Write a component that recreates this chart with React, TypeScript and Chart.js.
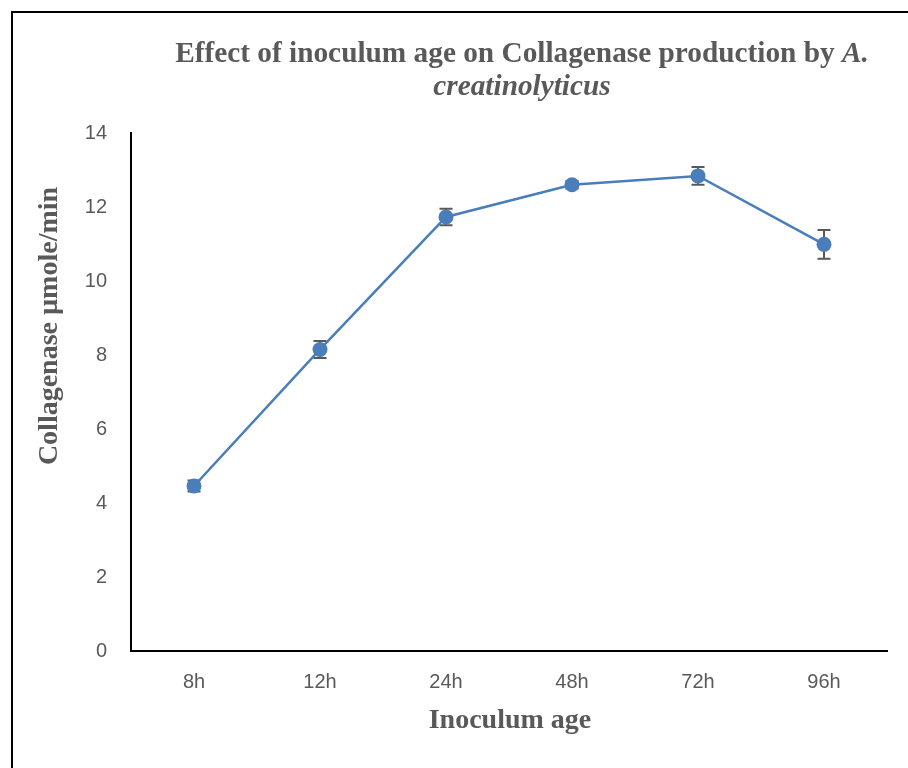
import React, { useEffect, useRef } from "react";
import { Chart, registerables } from "chart.js";

Chart.register(...registerables);

const categories = ["8h", "12h", "24h", "48h", "72h", "96h"];
const values = [4.46, 8.15, 11.73, 12.6, 12.84, 10.99];
const errors = [0.15, 0.23, 0.22, 0.1, 0.24, 0.39];
const yTicks = [0, 2, 4, 6, 8, 10, 12, 14];
const titleLine1 = "Effect of inoculum age on Collagenase production by ";
const titleLine1Italic = "A.";
const titleLine2 = "creatinolyticus";
const xTitle = "Inoculum age";
const yTitle = "Collagenase µmole/min";

const TEXT = "#595959";
const SERIES = "#4a7ebb";

const errorBarPlugin = {
  id: "errorBars",
  beforeDatasetsDraw(chart: any) {
    const ctx = chart.ctx;
    const xs = chart.scales.x;
    const ys = chart.scales.y;
    ctx.save();
    ctx.strokeStyle = "#595959";
    ctx.lineWidth = 2;
    values.forEach((v, i) => {
      const x = xs.getPixelForValue(i);
      const yt = ys.getPixelForValue(v + errors[i]);
      const yb = ys.getPixelForValue(v - errors[i]);
      ctx.beginPath();
      ctx.moveTo(x, yt);
      ctx.lineTo(x, yb);
      ctx.moveTo(x - 6.5, yt);
      ctx.lineTo(x + 6.5, yt);
      ctx.moveTo(x - 6.5, yb);
      ctx.lineTo(x + 6.5, yb);
      ctx.stroke();
    });
    ctx.restore();
  },
};

const textPlugin = {
  id: "texts",
  afterDraw(chart: any) {
    const ctx = chart.ctx;
    ctx.save();
    ctx.fillStyle = TEXT;
    ctx.textBaseline = "alphabetic";
    const fBold = "bold 29.3px 'Liberation Serif'";
    const fBoldIt = "italic bold 29.3px 'Liberation Serif'";
    ctx.font = fBold;
    const w1 = ctx.measureText(titleLine1).width;
    ctx.font = fBoldIt;
    const w2 = ctx.measureText(titleLine1Italic).width;
    const cx = 522;
    const x0 = cx - (w1 + w2) / 2;
    ctx.textAlign = "left";
    ctx.font = fBold;
    ctx.fillText(titleLine1, x0, 62);
    ctx.font = fBoldIt;
    ctx.fillText(titleLine1Italic, x0 + w1, 62);
    ctx.textAlign = "center";
    ctx.fillText(titleLine2, cx, 95);
    // x axis title
    ctx.textBaseline = "middle";
    ctx.font = "bold 28px 'Liberation Serif'";
    ctx.fillText(xTitle, 510, 721);
    // y axis title
    ctx.translate(50, 326);
    ctx.rotate(-Math.PI / 2);
    ctx.fillText(yTitle, 0, 0);
    ctx.restore();
  },
};

export default function App() {
  const ref = useRef<HTMLCanvasElement>(null);
  useEffect(() => {
    if (!ref.current) return;
    const chart = new Chart(ref.current, {
      type: "line",
      data: {
        labels: categories,
        datasets: [
          {
            data: values,
            borderColor: SERIES,
            backgroundColor: SERIES,
            borderWidth: 2.5,
            pointRadius: 7.5,
            pointHoverRadius: 7.5,
            pointBackgroundColor: SERIES,
            pointBorderColor: SERIES,
            pointBorderWidth: 0,
            tension: 0,
          },
        ],
      },
      options: {
        animation: false,
        responsive: false,
        events: [],
        layout: { padding: { left: 0, top: 133, right: 21, bottom: 0 } },
        plugins: { legend: { display: false }, tooltip: { enabled: false }, title: { display: false } },
        scales: {
          x: {
            offset: true,
            grid: { display: false, drawTicks: false },
            border: { display: true, color: "#000000", width: 2 },
            ticks: { color: TEXT, font: { family: "'Liberation Sans'", size: 20 }, padding: 19 },
            afterFit(scale: any) {
              scale.height = 117;
            },
          },
          y: {
            min: 0,
            max: 14,
            afterBuildTicks(scale: any) {
              scale.ticks = yTicks.map((v) => ({ value: v }));
            },
            grid: { display: false, drawTicks: false },
            border: { display: true, color: "#000000", width: 2 },
            ticks: { color: TEXT, font: { family: "'Liberation Sans'", size: 20 }, padding: 24 },
            afterFit(scale: any) {
              scale.width = 131;
            },
          },
        },
      },
      plugins: [errorBarPlugin, textPlugin],
    });
    return () => chart.destroy();
  }, []);
  return (
    <div style={{ position: "fixed", left: 0, top: 0, width: 908, height: 768, background: "#fff" }}>
      <canvas ref={ref} width={908} height={768} style={{ position: "absolute", left: 0, top: 0 }} />
      <div
        style={{
          position: "absolute",
          left: 11,
          top: 11,
          width: 1000,
          height: 1000,
          border: "2px solid #000",
          pointerEvents: "none",
        }}
      />
    </div>
  );
}
